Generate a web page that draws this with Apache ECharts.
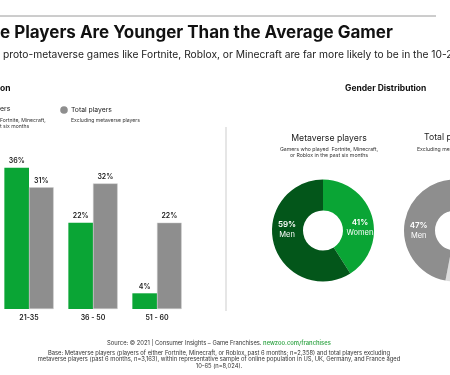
<!DOCTYPE html>
<html>
<head>
<meta charset="utf-8">
<script src="https://cdn.jsdelivr.net/npm/echarts@6/dist/echarts.min.js"></script>
<style>
  html, body { margin: 0; padding: 0; background: #fff; overflow: hidden; }
  /* shifted 3px left so the first bar group can sit partly off the cropped edge */
  #chart { position: absolute; left: -3px; top: 0; width: 453px; height: 375px; }
</style>
</head>
<body>
<div id="chart"></div>
<script>
// age groups, share of players (%)
var ageGroups = ['21-35', '36 - 50', '51 - 60']
var metaverseAge = [36, 22, 4]
var totalAge = [31, 32, 22]

// gender split (%)
var genderNames = ['Women', 'Men']
var metaverseGender = [41, 59]
var totalGender = [53, 47]

var FONT = 'Inter'
var GREEN = '#0aa535'
var DARK_GREEN = '#03561a'
var GRAY = '#8e8e8e'
var LIGHT_GRAY = '#dcdcdc'
var OX = 3 // container offset

var chart = echarts.init(document.getElementById('chart'))

function pct(p) { return p.value + '%' }

var pieRich = {
    a: { fontSize: 8, fontWeight: 600, color: '#fff', lineHeight: 10 },
    b: { fontSize: 7.5, color: '#fff', lineHeight: 10 }
}

function pieData(values, colors, offsets, hide) {
    return genderNames.map(function (n, i) {
        return {
            name: n, value: values[i],
            itemStyle: { color: colors[i] },
            label: { offset: offsets[i], show: !(hide && hide[i]) }
        }
    })
}

var option = {
    backgroundColor: '#fff',
    textStyle: { fontFamily: FONT },
    animation: false,
    grid: { left: 0, width: 192, top: 152, bottom: 66 },
    xAxis: {
        type: 'category',
        data: ageGroups,
        axisLine: { show: false },
        axisTick: { show: false },
        axisLabel: { fontSize: 7, fontWeight: 600, color: '#222', margin: 5 }
    },
    yAxis: { type: 'value', min: 0, max: 40, show: false },
    series: [
        {
            name: 'Metaverse players', type: 'bar', data: metaverseAge,
            barGap: 0, barCategoryGap: '23%',
            itemStyle: { color: GREEN },
            label: { show: true, position: 'top', distance: 3, formatter: pct,
                fontSize: 7, fontWeight: 600, color: '#222' }
        },
        {
            name: 'Total players', type: 'bar', data: totalAge,
            itemStyle: { color: GRAY, borderColor: '#cfcfcf', borderWidth: 0.5 },
            label: { show: true, position: 'top', distance: 3, formatter: pct,
                fontSize: 7, fontWeight: 600, color: '#222' }
        },
        {
            name: 'Metaverse gender', type: 'pie',
            center: [323 + OX, 230.5], radius: [20, 51],
            startAngle: 90, clockwise: true,
            data: pieData(metaverseGender, [GREEN, DARK_GREEN], [[0, 8], [1, -11.5]]),
            labelLine: { show: false },
            label: { show: true, position: 'inside', formatter: '{a|{c}%}\n{b|{b}}', rich: pieRich },
            emphasis: { disabled: true }
        },
        {
            name: 'Total gender', type: 'pie',
            center: [455 + OX, 230.5], radius: [20, 51],
            startAngle: 90, clockwise: true,
            data: pieData(totalGender, [LIGHT_GRAY, GRAY], [[0, 0], [2, 4]], [true, false]),
            labelLine: { show: false },
            label: { show: true, position: 'inside', formatter: '{a|{c}%}\n{b|{b}}', rich: pieRich },
            emphasis: { disabled: true }
        }
    ],
    graphic: [
        { type: 'line', shape: { x1: OX, y1: 16, x2: 436 + OX, y2: 16 }, style: { stroke: '#9a9a9a', lineWidth: 1 } },
        { type: 'text', left: OX, top: 24, style: { text: 'e Players Are Younger Than the Average Gamer',
            font: 'bold 17px ' + FONT, fill: '#111' } },
        { type: 'text', left: 3 + OX, top: 50, style: { text: 'proto-metaverse games like Fortnite, Roblox, or Minecraft are far more likely to be in the 10-2',
            font: '10.25px ' + FONT, fill: '#222' } },
        // left panel header + legend
        { type: 'text', left: OX, top: 84, style: { text: 'on', font: 'bold 8.5px ' + FONT, fill: '#111' } },
        { type: 'text', left: OX, top: 105, style: { text: 'ers', font: '7px ' + FONT, fill: '#222' } },
        { type: 'text', left: OX, top: 117, style: { text: 'Fortnite, Minecraft,\nt six months', font: '5.1px ' + FONT, fill: '#333', lineHeight: 6 } },
        { type: 'circle', shape: { cx: 64 + OX, cy: 110, r: 3.8 }, style: { fill: GRAY } },
        { type: 'text', left: 71 + OX, top: 106, style: { text: 'Total players', font: '6.8px ' + FONT, fill: '#222' } },
        { type: 'text', left: 71 + OX, top: 117.5, style: { text: 'Excluding metaverse players', font: '5.1px ' + FONT, fill: '#333' } },
        // separator
        { type: 'line', shape: { x1: 226 + OX, y1: 127, x2: 226 + OX, y2: 311 }, style: { stroke: '#e6e6e6', lineWidth: 2 } },
        // right panel
        { type: 'text', left: 345 + OX, top: 84, style: { text: 'Gender Distribution', font: 'bold 8.5px ' + FONT, fill: '#111' } },
        { type: 'text', x: 329 + OX, y: 138, style: { text: 'Metaverse players', font: '8.7px ' + FONT, fill: '#222',
            textAlign: 'center', textVerticalAlign: 'middle' } },
        { type: 'text', x: 329 + OX, y: 152, style: { text: 'Gamers who played  Fortnite, Minecraft,\nor Roblox in the past six months',
            font: '5.2px ' + FONT, fill: '#333', textAlign: 'center', textVerticalAlign: 'middle', lineHeight: 6 } },
        { type: 'text', left: 424 + OX, top: 133, style: { text: 'Total p', font: '8.7px ' + FONT, fill: '#222' } },
        { type: 'text', left: 417 + OX, top: 146.5, style: { text: 'Excluding me', font: '5.2px ' + FONT, fill: '#333' } },
        // footer
        { type: 'text', x: 219 + OX, y: 343, style: {
            text: '{s|Source: © 2021 | Consumer Insights – Game Franchises. }{l|newzoo.com/franchises}',
            textAlign: 'center', textVerticalAlign: 'middle',
            rich: {
                s: { fontSize: 5.8, fontFamily: FONT, fill: '#333' },
                l: { fontSize: 5.8, fontFamily: FONT, fill: '#3ca94f', fontWeight: 600 }
            } } },
        { type: 'text', x: 219 + OX, y: 359.5, style: {
            text: 'Base: Metaverse players (players of either Fortnite, Minecraft, or Roblox, past 6 months; n=2,358) and total players excluding\nmetaverse players (past 6 months, n=3,163), within representative sample of online population in US, UK, Germany, and France aged\n10-65 (n=8,024).',
            font: '5.8px ' + FONT, fill: '#333', textAlign: 'center', textVerticalAlign: 'middle', lineHeight: 6.7 } }
    ]
}

chart.setOption(option)
</script>
</body>
</html>
